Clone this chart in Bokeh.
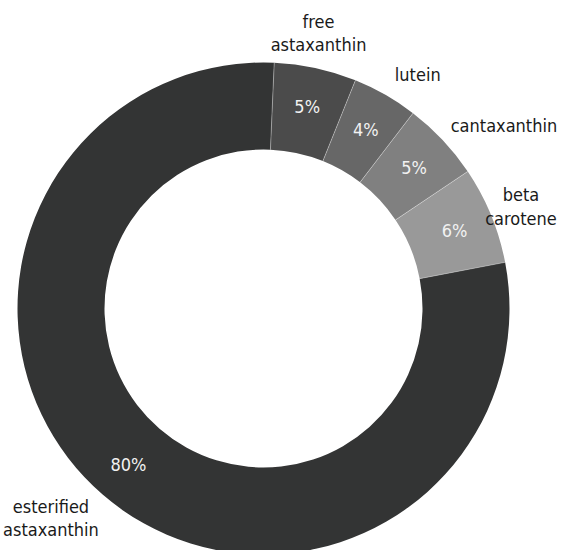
import numpy as np
from bokeh.plotting import figure
from bokeh.models import Range1d, ColumnDataSource
from bokeh.core.properties import value
from bokeh.embed import file_html
from bokeh.resources import INLINE

# Data (clockwise from the top)
categories = ["free\nastaxanthin", "lutein", "cantaxanthin", "beta\ncarotene", "esterified\nastaxanthin"]
shares = [5.4, 4.3, 5.2, 6.4, 78.7]
pct_labels = ["5%", "4%", "5%", "6%", "80%"]
colors = ["#4b4b4b", "#676767", "#808080", "#999999", "#333434"]

# Geometry / style
W, H = 569, 550
CX, CY = 263, 308          # pixel position of the ring centre
R_OUT, R_IN = 246, 159
START_DEG = 2.5            # first slice starts slightly clockwise of 12 o'clock
FONT = "DejaVu Sans Condensed"
FS = 18
LINE_PX = 22
CHAR_PX = 8.5

vals = np.array(shares, dtype=float)
frac = vals / vals.sum()
cum = np.concatenate([[0], np.cumsum(frac)]) * 2 * np.pi + np.deg2rad(START_DEG)
t1, t2 = cum[:-1], cum[1:]
tm = (t1 + t2) / 2

p = figure(width=W, height=H, x_range=Range1d(-CX, W - CX), y_range=Range1d(-(H - CY), CY),
           output_backend="svg", toolbar_location=None, min_border=0,
           x_axis_location=None, y_axis_location=None)
p.grid.visible = False
p.outline_line_color = None
p.background_fill_color = "white"
p.border_fill_color = "white"

src = ColumnDataSource(dict(start=np.pi / 2 - t2, end=np.pi / 2 - t1, color=colors))
p.annular_wedge(x=0, y=0, inner_radius=R_IN, outer_radius=R_OUT, start_angle="start", end_angle="end",
                fill_color="color", line_color=None, source=src)

# slice dividers
p.segment(x0=R_IN * np.sin(t1), y0=R_IN * np.cos(t1), x1=R_OUT * np.sin(t1), y1=R_OUT * np.cos(t1),
          line_color="white", line_alpha=0.35, line_width=1)

# percentage labels inside the ring
r_mid = (R_IN + R_OUT) / 2 + 4
p.text(x=r_mid * np.sin(tm), y=r_mid * np.cos(tm), text=pct_labels, text_align="center",
       text_baseline="middle", text_color="#f2f2f2", text_font=value(FONT), text_font_size=f"{FS}px")

# category labels outside the ring
gap = 14
s, c = np.sin(tm), np.cos(tm)
ax = (R_OUT + gap) * s
ay = (R_OUT + gap) * c
first_w = np.array([len(t.split("\n")[0]) * CHAR_PX for t in categories])
block_h = np.array([len(t.split("\n")) * LINE_PX for t in categories])
lx = np.where(np.abs(s) < 0.35, ax, ax + np.sign(s) * first_w / 2)
ly = ay + c * np.abs(c) * block_h / 2
p.text(x=lx, y=ly, text=categories, text_align="center", text_baseline="middle",
       text_color="#1a1a1a", text_font=value(FONT), text_font_size=f"{FS}px",
       text_line_height=1.1)

open("out.html", "w").write(file_html(p, INLINE))
